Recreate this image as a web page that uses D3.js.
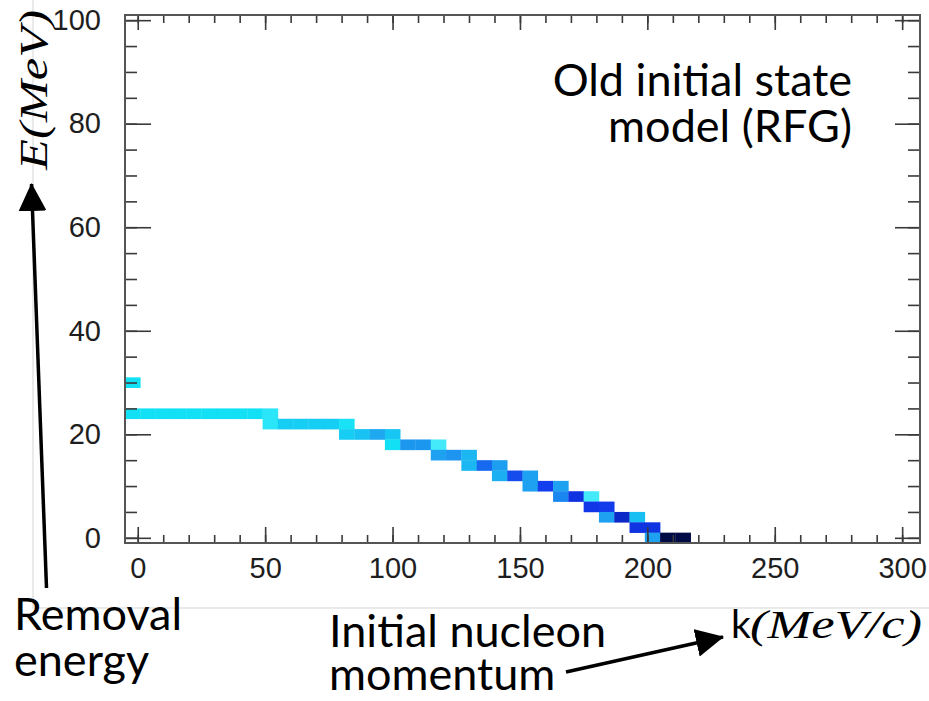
<!DOCTYPE html>
<html>
<head>
<meta charset="utf-8">
<script src="https://cdn.jsdelivr.net/npm/d3@7"></script>
<style>
    body { margin: 0; background: #ffffff; }
    svg { display: block; }
</style>
</head>
<body>
<div id="chartRoot"></div>
<script>
'use strict';

// histogram cells: bin centre in k, bin centre in E, and a weight
let cellK = [-2,
             -2, 4, 10, 16, 22, 28, 34, 40, 46, 52,
             52, 58, 64, 70, 76, 82,
             82, 88, 94, 100,
             100, 106, 112, 118,
             118, 124, 130,
             130, 136, 142,
             142, 148, 154,
             154, 160, 166,
             166, 172, 178,
             178, 184,
             184, 190, 196,
             196, 202,
             202, 208, 214];
let cellE = [30,
             24, 24, 24, 24, 24, 24, 24, 24, 24, 24,
             22, 22, 22, 22, 22, 22,
             20, 20, 20, 20,
             18, 18, 18, 18,
             16, 16, 16,
             14, 14, 14,
             12, 12, 12,
             10, 10, 10,
             8, 8, 8,
             6, 6,
             4, 4, 4,
             2, 2,
             0, 0, 0];
let cellZ = [1.6,
             1.6, 1.6, 1.6, 1.6, 1.6, 1.6, 1.6, 1.6, 1.6, 1.3,
             1.3, 2.0, 2.0, 2.0, 2.0, 1.5,
             2.0, 2.3, 3.0, 2.2,
             1.6, 3.5, 3.5, 1.0,
             3.2, 3.6, 2.6,
             2.6, 4.8, 3.3,
             2.8, 5.8, 3.2,
             3.2, 6.3, 3.2,
             4.0, 6.8, 1.0,
             6.6, 6.4,
             3.2, 7.5, 2.4,
             6.8, 6.8,
             3.2, 10, 10];

// bin widths
let kBinWidth = 6;
let eBinWidth = 2;

// axis ranges and ticks
let kDomain = [-5, 307];
let eDomain = [-1, 101];
let kMajorTicks = [0, 50, 100, 150, 200, 250, 300];
let kMinorTicks = d3.range(0, 301, 10);
let eMajorTicks = [0, 20, 40, 60, 80, 100];
let eMinorTicks = d3.range(0, 101, 5);

// palette (weight -> colour)
let zStops = [1.0, 1.6, 2.0, 3.0, 4.0, 5.0, 6.5, 7.5, 10];
let colourStops = ["#44e9fa", "#12e0f5", "#16cdf4", "#1ea8f0", "#1a86f0",
                   "#1662f0", "#1238ec", "#0c28c6", "#000a45"];

{ // start scope

let svgWidth = 929;
let svgHeight = 701;
let margin = {top: 15, right: 9, bottom: 158, left: 125};

let svg = d3.select("#chartRoot")
            .append("svg")
            .attr("width", svgWidth)
            .attr("height", svgHeight);

// faint border of the pasted plot picture
svg.append("path")
    .attr("d", "M33,0 V608 H929")
    .attr("fill", "none")
    .attr("stroke", "#e4e4e4")
    .attr("stroke-width", 1.5);

let xScale = d3.scaleLinear()
                .domain(kDomain)
                .range([margin.left, svgWidth - margin.right]);
let yScale = d3.scaleLinear()
                .domain(eDomain)
                .range([svgHeight - margin.bottom, margin.top]);
let colourScale = d3.scaleLinear()
                .domain(zStops)
                .range(colourStops)
                .interpolate(d3.interpolateRgb);

let cells = cellK.map((k, i) => {
    return {k: k, e: cellE[i], z: cellZ[i]};
});

svg.append("g")
    .selectAll("rect")
    .data(cells)
    .enter()
    .append("rect")
    .attr("x", (d) => xScale(d.k - kBinWidth / 2))
    .attr("y", (d) => yScale(d.e + eBinWidth / 2))
    .attr("width", (d) => xScale(d.k + kBinWidth / 2) - xScale(d.k - kBinWidth / 2) + 0.3)
    .attr("height", (d) => yScale(d.e - eBinWidth / 2) - yScale(d.e + eBinWidth / 2) + 0.3)
    .attr("fill", (d) => colourScale(d.z));

//------------------------------------------------------------
// axes: ticks pointing inward on all four sides
//------------------------------------------------------------
let x0 = margin.left;
let x1 = svgWidth - margin.right;
let y0 = svgHeight - margin.bottom;
let y1 = margin.top;

let styleAxis = (g) => {
    g.select(".domain").remove();
    g.selectAll("line").attr("stroke", "#3a3a3a").attr("stroke-width", 1.6);
    g.selectAll("text")
        .attr("font-family", "'Liberation Sans', Arial, sans-serif")
        .attr("font-size", 29)
        .attr("fill", "#1e1e1e");
};

svg.append("g").attr("transform", `translate(0,${y0})`)
    .call(d3.axisBottom(xScale).tickValues(kMinorTicks).tickSize(-8).tickFormat(""))
    .call(styleAxis);
svg.append("g").attr("transform", `translate(0,${y0})`)
    .call(d3.axisBottom(xScale).tickValues(kMajorTicks).tickSize(-16).tickPadding(14).tickFormat(d3.format("d")))
    .call(styleAxis);
svg.append("g").attr("transform", `translate(0,${y1})`)
    .call(d3.axisTop(xScale).tickValues(kMinorTicks).tickSize(-8).tickFormat(""))
    .call(styleAxis);
svg.append("g").attr("transform", `translate(0,${y1})`)
    .call(d3.axisTop(xScale).tickValues(kMajorTicks).tickSize(-15).tickFormat(""))
    .call(styleAxis);

svg.append("g").attr("transform", `translate(${x0},0)`)
    .call(d3.axisLeft(yScale).tickValues(eMinorTicks).tickSize(-12).tickFormat(""))
    .call(styleAxis);
svg.append("g").attr("transform", `translate(${x0},0)`)
    .call(d3.axisLeft(yScale).tickValues(eMajorTicks).tickSize(-26).tickPadding(24).tickFormat(d3.format("d")))
    .call(styleAxis);
svg.append("g").attr("transform", `translate(${x1},0)`)
    .call(d3.axisRight(yScale).tickValues(eMinorTicks).tickSize(-12).tickFormat(""))
    .call(styleAxis);
svg.append("g").attr("transform", `translate(${x1},0)`)
    .call(d3.axisRight(yScale).tickValues(eMajorTicks).tickSize(-25).tickFormat(""))
    .call(styleAxis);

// frame
svg.append("rect")
    .attr("x", x0)
    .attr("y", y1)
    .attr("width", x1 - x0)
    .attr("height", y0 - y1)
    .attr("fill", "none")
    .attr("stroke", "#555555")
    .attr("stroke-width", 2);

//------------------------------------------------------------
// axis titles
//------------------------------------------------------------
svg.append("text")
    .attr("transform", "translate(47,90) rotate(-90)")
    .attr("text-anchor", "middle")
    .attr("font-family", "'Liberation Serif', serif")
    .attr("font-style", "italic")
    .attr("font-size", 40)
    .attr("textLength", 160)
    .attr("lengthAdjust", "spacingAndGlyphs")
    .text("E(MeV)");

svg.append("text")
    .attr("x", 731)
    .attr("y", 638)
    .attr("font-family", "Lato, sans-serif")
    .attr("font-size", 39)
    .text("k");
svg.append("text")
    .attr("x", 750)
    .attr("y", 638)
    .attr("font-family", "'Liberation Serif', serif")
    .attr("font-style", "italic")
    .attr("font-size", 40)
    .attr("textLength", 172)
    .attr("lengthAdjust", "spacingAndGlyphs")
    .text("(MeV/c)");

//------------------------------------------------------------
// annotations: each is one text block with stacked lines
//------------------------------------------------------------
let note = (x, y, lines, anchor, gap) => {
    let t = svg.append("text")
                .attr("text-anchor", anchor)
                .attr("font-family", "Lato, sans-serif")
                .attr("font-size", 45)
                .attr("fill", "#000000");
    lines.forEach((str, i) => {
        t.append("tspan")
            .attr("x", x)
            .attr("y", y + i * gap)
            .text(str);
    });
};

note(852, 96, ["Old initial state", "model (RFG)"], "end", 46);
note(14, 630, ["Removal", "energy"], "start", 46);
note(329, 647, ["Initial nucleon", "momentum"], "start", 43);

svg.append("defs")
    .append("marker")
    .attr("id", "arrowHead")
    .attr("markerUnits", "userSpaceOnUse")
    .attr("viewBox", "0 0 28 28")
    .attr("refX", 27)
    .attr("refY", 14)
    .attr("markerWidth", 28)
    .attr("markerHeight", 28)
    .attr("orient", "auto")
    .append("path")
    .attr("d", "M0,0 L28,14 L0,28 Z")
    .attr("fill", "#000000");

let arrow = (xa, ya, xb, yb) => {
    svg.append("line")
        .attr("x1", xa)
        .attr("y1", ya)
        .attr("x2", xb)
        .attr("y2", yb)
        .attr("stroke", "#000000")
        .attr("stroke-width", 3.5)
        .attr("marker-end", "url(#arrowHead)");
};

arrow(46.5, 588, 31.5, 184);
arrow(566, 672, 723, 637);

} // end scope
</script>
</body>
</html>
